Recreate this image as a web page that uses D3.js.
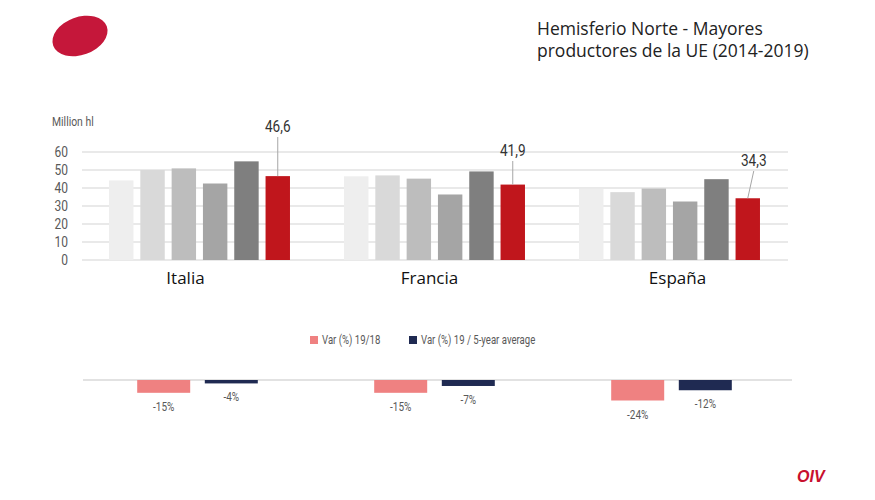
<!DOCTYPE html>
<html><head><meta charset="utf-8">
<script src="https://cdn.jsdelivr.net/npm/d3@7"></script>
<style>body{margin:0;background:#fff}svg{display:block}</style>
</head><body>
<script>
const countries = ["Italia", "Francia", "España"];
const years = ["2014", "2015", "2016", "2017", "2018", "2019"];
const italia = [44.2, 50.0, 50.9, 42.5, 54.8, 46.6];
const francia = [46.5, 47.0, 45.2, 36.4, 49.2, 41.9];
const espana = [39.5, 37.7, 39.7, 32.5, 44.9, 34.3];
const yTicks = [0, 10, 20, 30, 40, 50, 60];
const valueLabels = ["46,6", "41,9", "34,3"];
const varSeries = ["Var (%) 19/18", "Var (%) 19 / 5-year average"];
const var1918 = [-15, -15, -24];
const var5y = [-4, -7, -12];
const varLabels1918 = ["-15%", "-15%", "-24%"];
const varLabels5y = ["-4%", "-7%", "-12%"];
const titleLines = ["Hemisferio Norte - Mayores", "productores de la UE (2014-2019)"];

const production = [italia, francia, espana];
const barColors = ["#eeeeee", "#d9d9d9", "#bdbdbd", "#a5a5a5", "#7f7f7f", "#c0161c"];
const varColors = ["#ef8181", "#1f2a52"];
const narrow = "Roboto,sans-serif";
const SX = 0.8;

const W = 875, H = 500;
const svg = d3.select("body").append("svg").attr("width", W).attr("height", H);

function condText(parent, x, y, str, size, fill, anchor) {
  return parent.append("text")
    .attr("transform", `translate(${x},${y}) scale(${SX},1)`)
    .attr("text-anchor", anchor || "start")
    .attr("font-family", narrow).attr("font-size", size).attr("fill", fill).text(str);
}

// logo
svg.append("ellipse").attr("cx", 80).attr("cy", 36).attr("rx", 28.5).attr("ry", 19)
  .attr("transform", "rotate(-20,80,36)").attr("fill", "#c5173a");

// title
svg.append("g").selectAll("text").data(titleLines).join("text")
  .attr("x", 537).attr("y", (d, i) => 35 + i * 22)
  .attr("font-family", "'Open Sans',sans-serif").attr("font-size", 17.5).attr("fill", "#222")
  .text(d => d);

// top chart
const x0 = d3.scaleBand().domain(countries).range([82, 787]).paddingInner(0.23).paddingOuter(0.115);
const x1 = d3.scaleBand().domain(years).range([0, x0.bandwidth()]).paddingInner(0.22).paddingOuter(0);
const y = d3.scaleLinear().domain([0, 60]).range([260, 152]);

const grid = svg.append("g");
grid.selectAll("line").data(yTicks).join("line")
  .attr("x1", 82).attr("x2", 788).attr("y1", d => y(d)).attr("y2", d => y(d))
  .attr("stroke", "#e2e2e2").attr("stroke-width", 1.5);

const yAxis = svg.append("g").attr("transform", "translate(68,0)")
  .call(d3.axisLeft(y).tickValues(yTicks).tickSize(0).tickPadding(0));
yAxis.select(".domain").remove();
yAxis.selectAll("text").attr("font-family", narrow).attr("font-size", 15).attr("fill", "#595959")
  .attr("x", 0).attr("transform", `scale(${SX},1)`);

condText(svg, 52, 126, "Million hl", 13, "#595959");

const groups = svg.append("g").selectAll("g").data(countries).join("g")
  .attr("transform", d => `translate(${x0(d)},0)`);
groups.selectAll("rect").data((d, i) => production[i].map((v, j) => ({year: years[j], v, j})))
  .join("rect")
  .attr("x", d => x1(d.year)).attr("width", x1.bandwidth())
  .attr("y", d => y(d.v)).attr("height", d => y(0) - y(d.v))
  .attr("fill", d => barColors[d.j]);

// value callouts for 2019
const labelDx = [0, 0, 6];
const labelY = [132, 156, 166];
countries.forEach((c, i) => {
  const v = production[i][5];
  const bx = x0(c) + x1("2019") + x1.bandwidth() / 2;
  svg.append("line").attr("x1", bx).attr("y1", y(v)).attr("x2", bx + labelDx[i]).attr("y2", labelY[i] + 5)
    .attr("stroke", "#a6a6a6").attr("stroke-width", 1);
  condText(svg, bx + labelDx[i], labelY[i], valueLabels[i], 17, "#333", "middle");
});

// category labels
const catDx = [-14, -5, 8];
svg.append("g").selectAll("text").data(countries).join("text")
  .attr("x", (d, i) => x0(d) + x0.bandwidth() / 2 + catDx[i])
  .attr("y", 284).attr("text-anchor", "middle")
  .attr("font-family", "'Open Sans',sans-serif").attr("font-size", 17).attr("fill", "#111")
  .text(d => d);

// legend
const legX = [310, 409];
varSeries.forEach((s, i) => {
  svg.append("rect").attr("x", legX[i]).attr("y", 336).attr("width", 8).attr("height", 8).attr("fill", varColors[i]);
  condText(svg, legX[i] + 12, 344, s, 12, "#595959");
});

// bottom chart
const yv = d3.scaleLinear().domain([0, -24]).range([380, 400.5]);
const xv = d3.scaleBand().domain(varSeries).range([-60.3, 60.3]).paddingInner(0.216).paddingOuter(0);
svg.append("line").attr("x1", 83).attr("x2", 792).attr("y1", yv(0)).attr("y2", yv(0))
  .attr("stroke", "#d9d9d9").attr("stroke-width", 1.5);

const vg = svg.append("g").selectAll("g").data(countries).join("g")
  .attr("transform", (d, i) => `translate(${x0(d) + x0.bandwidth() / 2 - 2 + i * 2},0)`);
const vdata = (d, i) => [
  {s: varSeries[0], v: var1918[i], l: varLabels1918[i], k: 0},
  {s: varSeries[1], v: var5y[i], l: varLabels5y[i], k: 1}];
vg.selectAll("rect").data(vdata).join("rect")
  .attr("x", d => xv(d.s)).attr("width", xv.bandwidth())
  .attr("y", yv(0)).attr("height", d => yv(d.v) - yv(0))
  .attr("fill", d => varColors[d.k]);
vg.each(function(d, i) {
  const g = d3.select(this);
  vdata(d, i).forEach(e => condText(g, xv(e.s) + xv.bandwidth() / 2, yv(e.v) + 18, e.l, 12.5, "#595959", "middle"));
});

// OIV mark
svg.append("text").attr("x", 797).attr("y", 482).attr("font-family", "'Liberation Sans',Arial,sans-serif")
  .attr("font-weight", "bold").attr("font-style", "italic").attr("font-size", 16)
  .attr("fill", "#c8102e").text("OIV");
</script>
</body></html>
